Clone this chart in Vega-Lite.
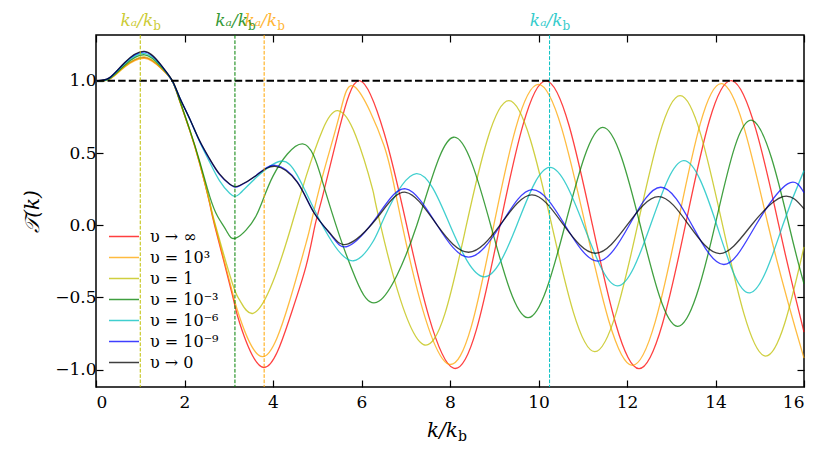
{
  "$schema": "https://vega.github.io/schema/vega-lite/v6.json",
  "width": 708,
  "height": 352,
  "autosize": {"type": "none"},
  "padding": {"left": 96, "top": 35, "right": 27, "bottom": 71},
  "config": {
    "view": {"stroke": "#000", "strokeWidth": 1.5},
    "font": "DejaVu Serif",
    "text": {"font": "DejaVu Serif"},
    "axis": {
      "grid": false, "domain": false, "tickColor": "#000", "tickWidth": 1.2, "tickSize": -7,
      "labelFont": "DejaVu Serif", "labelFontSize": 17, "labelColor": "#000",
      "titleFont": "DejaVu Serif", "titleFontSize": 20, "titleFontWeight": "normal", "titleColor": "#000"
    },
    "legend": {
      "orient": "none", "legendX": 12, "legendY": 191, "symbolType": "stroke", "symbolSize": 900,
      "symbolStrokeWidth": 1.5, "symbolOpacity": 0.75, "labelFont": "DejaVu Serif", "labelFontSize": 16,
      "labelColor": "#000", "rowPadding": 0, "clipHeight": 21, "labelOffset": 10
    }
  },
  "datasets": {
    "markers": [
      {"k": 1.0, "s": "υ = 1"},
      {"k": 3.14, "s": "υ = 10⁻³"},
      {"k": 3.8, "s": "υ = 10³"},
      {"k": 10.25, "s": "υ = 10⁻⁶"}
    ],
    "curves": [
      {"s": "υ → ∞", "k": 0, "T": 1.0}, {"s": "υ → ∞", "k": 0.3, "T": 1.013}, {"s": "υ → ∞", "k": 0.65, "T": 1.1},
      {"s": "υ → ∞", "k": 1.1, "T": 1.16}, {"s": "υ → ∞", "k": 1.48, "T": 1.085}, {"s": "υ → ∞", "k": 1.72, "T": 1.0},
      {"s": "υ → ∞", "k": 1.89, "T": 0.862}, {"s": "υ → ∞", "k": 2.12, "T": 0.655}, {"s": "υ → ∞", "k": 2.34, "T": 0.43},
      {"s": "υ → ∞", "k": 2.57, "T": 0.15}, {"s": "υ → ∞", "k": 2.68, "T": 0.0}, {"s": "υ → ∞", "k": 3.08, "T": -0.48},
      {"s": "υ → ∞", "k": 3.25, "T": -0.68}, {"s": "υ → ∞", "k": 3.79, "T": -0.985},
      {"s": "υ → ∞", "k": 4.37, "T": -0.65}, {"s": "υ → ∞", "k": 4.75, "T": -0.28}, {"s": "υ → ∞", "k": 4.95, "T": 0.0},
      {"s": "υ → ∞", "k": 5.12, "T": 0.2}, {"s": "υ → ∞", "k": 5.5, "T": 0.67}, {"s": "υ → ∞", "k": 5.97, "T": 1.0},
      {"s": "υ → ∞", "k": 6.51, "T": 0.64}, {"s": "υ → ∞", "k": 7.02, "T": 0.0}, {"s": "υ → ∞", "k": 8.08, "T": -0.99},
      {"s": "υ → ∞", "k": 9.13, "T": 0.0}, {"s": "υ → ∞", "k": 10.17, "T": 1.0}, {"s": "υ → ∞", "k": 11.22, "T": 0.0},
      {"s": "υ → ∞", "k": 12.27, "T": -0.993}, {"s": "υ → ∞", "k": 13.32, "T": 0.0}, {"s": "υ → ∞", "k": 14.38, "T": 1.0},
      {"s": "υ → ∞", "k": 15.43, "T": 0.0}, {"s": "υ → ∞", "k": 16, "T": -0.74},

      {"s": "υ = 10³", "k": 0, "T": 1.0}, {"s": "υ = 10³", "k": 0.3, "T": 1.01}, {"s": "υ = 10³", "k": 0.65, "T": 1.095},
      {"s": "υ = 10³", "k": 1.1, "T": 1.155}, {"s": "υ = 10³", "k": 1.48, "T": 1.083}, {"s": "υ = 10³", "k": 1.72, "T": 1.0},
      {"s": "υ = 10³", "k": 1.89, "T": 0.862}, {"s": "υ = 10³", "k": 2.12, "T": 0.655}, {"s": "υ = 10³", "k": 2.34, "T": 0.43},
      {"s": "υ = 10³", "k": 2.57, "T": 0.155}, {"s": "υ = 10³", "k": 2.69, "T": 0.0}, {"s": "υ = 10³", "k": 3.08, "T": -0.46},
      {"s": "υ = 10³", "k": 3.25, "T": -0.64}, {"s": "υ = 10³", "k": 3.77, "T": -0.91},
      {"s": "υ = 10³", "k": 4.37, "T": -0.53}, {"s": "υ = 10³", "k": 4.75, "T": -0.12}, {"s": "υ = 10³", "k": 4.85, "T": 0.0},
      {"s": "υ = 10³", "k": 5.12, "T": 0.34}, {"s": "υ = 10³", "k": 5.5, "T": 0.76}, {"s": "υ = 10³", "k": 5.86, "T": 0.955},
      {"s": "υ = 10³", "k": 6.51, "T": 0.55}, {"s": "υ = 10³", "k": 6.92, "T": 0.0}, {"s": "υ = 10³", "k": 7.97, "T": -0.962},
      {"s": "υ = 10³", "k": 8.99, "T": 0.0}, {"s": "υ = 10³", "k": 10.0, "T": 0.975}, {"s": "υ = 10³", "k": 11.06, "T": 0.0},
      {"s": "υ = 10³", "k": 12.12, "T": -0.97}, {"s": "υ = 10³", "k": 13.14, "T": 0.0}, {"s": "υ = 10³", "k": 14.15, "T": 0.98},
      {"s": "υ = 10³", "k": 15.19, "T": 0.0}, {"s": "υ = 10³", "k": 16, "T": -0.92},

      {"s": "υ = 1", "k": 0, "T": 1.0}, {"s": "υ = 1", "k": 0.3, "T": 1.013}, {"s": "υ = 1", "k": 0.65, "T": 1.1},
      {"s": "υ = 1", "k": 1.1, "T": 1.165}, {"s": "υ = 1", "k": 1.48, "T": 1.088}, {"s": "υ = 1", "k": 1.72, "T": 1.0},
      {"s": "υ = 1", "k": 1.89, "T": 0.864}, {"s": "υ = 1", "k": 2.12, "T": 0.657}, {"s": "υ = 1", "k": 2.34, "T": 0.435},
      {"s": "υ = 1", "k": 2.57, "T": 0.16}, {"s": "υ = 1", "k": 2.7, "T": 0.0}, {"s": "υ = 1", "k": 3.08, "T": -0.4},
      {"s": "υ = 1", "k": 3.25, "T": -0.52}, {"s": "υ = 1", "k": 3.55, "T": -0.61},
      {"s": "υ = 1", "k": 4.0, "T": -0.39}, {"s": "υ = 1", "k": 4.42, "T": 0.0}, {"s": "υ = 1", "k": 4.75, "T": 0.34},
      {"s": "υ = 1", "k": 5.12, "T": 0.66}, {"s": "υ = 1", "k": 5.46, "T": 0.793}, {"s": "υ = 1", "k": 5.87, "T": 0.62},
      {"s": "υ = 1", "k": 6.25, "T": 0.25}, {"s": "υ = 1", "k": 6.43, "T": 0.0}, {"s": "υ = 1", "k": 7.4, "T": -0.826},
      {"s": "υ = 1", "k": 8.37, "T": 0.0}, {"s": "υ = 1", "k": 9.33, "T": 0.862}, {"s": "υ = 1", "k": 10.3, "T": 0.0},
      {"s": "υ = 1", "k": 11.27, "T": -0.875}, {"s": "υ = 1", "k": 12.24, "T": 0.0}, {"s": "υ = 1", "k": 13.2, "T": 0.897},
      {"s": "υ = 1", "k": 14.16, "T": 0.0}, {"s": "υ = 1", "k": 15.11, "T": -0.905}, {"s": "υ = 1", "k": 16, "T": -0.15},

      {"s": "υ = 10⁻³", "k": 0, "T": 1.0}, {"s": "υ = 10⁻³", "k": 0.3, "T": 1.015}, {"s": "υ = 10⁻³", "k": 0.65, "T": 1.11},
      {"s": "υ = 10⁻³", "k": 1.1, "T": 1.18}, {"s": "υ = 10⁻³", "k": 1.48, "T": 1.095}, {"s": "υ = 10⁻³", "k": 1.72, "T": 1.0},
      {"s": "υ = 10⁻³", "k": 1.89, "T": 0.866}, {"s": "υ = 10⁻³", "k": 2.12, "T": 0.66}, {"s": "υ = 10⁻³", "k": 2.34, "T": 0.445},
      {"s": "υ = 10⁻³", "k": 2.57, "T": 0.2}, {"s": "υ = 10⁻³", "k": 2.75, "T": 0.06}, {"s": "υ = 10⁻³", "k": 2.95, "T": -0.04},
      {"s": "υ = 10⁻³", "k": 3.17, "T": -0.088},
      {"s": "υ = 10⁻³", "k": 3.62, "T": 0.066}, {"s": "υ = 10⁻³", "k": 4.0, "T": 0.34}, {"s": "υ = 10⁻³", "k": 4.67, "T": 0.563},
      {"s": "υ = 10⁻³", "k": 5.12, "T": 0.3}, {"s": "υ = 10⁻³", "k": 5.5, "T": -0.07}, {"s": "υ = 10⁻³", "k": 5.87, "T": -0.37},
      {"s": "υ = 10⁻³", "k": 6.4, "T": -0.525}, {"s": "υ = 10⁻³", "k": 7.25, "T": 0.0}, {"s": "υ = 10⁻³", "k": 8.08, "T": 0.609},
      {"s": "υ = 10⁻³", "k": 8.92, "T": 0.0}, {"s": "υ = 10⁻³", "k": 9.76, "T": -0.64}, {"s": "υ = 10⁻³", "k": 10.6, "T": 0.0},
      {"s": "υ = 10⁻³", "k": 11.45, "T": 0.678}, {"s": "υ = 10⁻³", "k": 12.3, "T": 0.0}, {"s": "υ = 10⁻³", "k": 13.14, "T": -0.7},
      {"s": "υ = 10⁻³", "k": 13.99, "T": 0.0}, {"s": "υ = 10⁻³", "k": 14.83, "T": 0.726}, {"s": "υ = 10⁻³", "k": 15.66, "T": 0.0},
      {"s": "υ = 10⁻³", "k": 16, "T": -0.405},

      {"s": "υ = 10⁻⁶", "k": 0, "T": 1.0}, {"s": "υ = 10⁻⁶", "k": 0.3, "T": 1.017}, {"s": "υ = 10⁻⁶", "k": 0.65, "T": 1.12},
      {"s": "υ = 10⁻⁶", "k": 1.1, "T": 1.19}, {"s": "υ = 10⁻⁶", "k": 1.48, "T": 1.1}, {"s": "υ = 10⁻⁶", "k": 1.72, "T": 1.0},
      {"s": "υ = 10⁻⁶", "k": 1.89, "T": 0.884}, {"s": "υ = 10⁻⁶", "k": 2.12, "T": 0.733}, {"s": "υ = 10⁻⁶", "k": 2.34, "T": 0.58},
      {"s": "υ = 10⁻⁶", "k": 2.57, "T": 0.436}, {"s": "υ = 10⁻⁶", "k": 2.79, "T": 0.309}, {"s": "υ = 10⁻⁶", "k": 3.02, "T": 0.221},
      {"s": "υ = 10⁻⁶", "k": 3.13, "T": 0.2},
      {"s": "υ = 10⁻⁶", "k": 3.245, "T": 0.217}, {"s": "υ = 10⁻⁶", "k": 3.62, "T": 0.33}, {"s": "υ = 10⁻⁶", "k": 4.17, "T": 0.443},
      {"s": "υ = 10⁻⁶", "k": 4.55, "T": 0.345}, {"s": "υ = 10⁻⁶", "k": 4.93, "T": 0.11}, {"s": "υ = 10⁻⁶", "k": 5.34, "T": -0.118},
      {"s": "υ = 10⁻⁶", "k": 5.82, "T": -0.246}, {"s": "υ = 10⁻⁶", "k": 6.25, "T": -0.118}, {"s": "υ = 10⁻⁶", "k": 6.51, "T": 0.05},
      {"s": "υ = 10⁻⁶", "k": 7.24, "T": 0.357}, {"s": "υ = 10⁻⁶", "k": 8.0, "T": 0.0}, {"s": "υ = 10⁻⁶", "k": 8.77, "T": -0.357},
      {"s": "υ = 10⁻⁶", "k": 9.51, "T": 0.0}, {"s": "υ = 10⁻⁶", "k": 10.25, "T": 0.4}, {"s": "υ = 10⁻⁶", "k": 11.02, "T": 0.0},
      {"s": "υ = 10⁻⁶", "k": 11.78, "T": -0.42}, {"s": "υ = 10⁻⁶", "k": 12.53, "T": 0.0}, {"s": "υ = 10⁻⁶", "k": 13.28, "T": 0.447},
      {"s": "υ = 10⁻⁶", "k": 14.03, "T": 0.0}, {"s": "υ = 10⁻⁶", "k": 14.78, "T": -0.468}, {"s": "υ = 10⁻⁶", "k": 15.52, "T": 0.0},
      {"s": "υ = 10⁻⁶", "k": 16, "T": 0.378},

      {"s": "υ = 10⁻⁹", "k": 0, "T": 1.0}, {"s": "υ = 10⁻⁹", "k": 0.3, "T": 1.02}, {"s": "υ = 10⁻⁹", "k": 0.65, "T": 1.125},
      {"s": "υ = 10⁻⁹", "k": 1.1, "T": 1.2}, {"s": "υ = 10⁻⁹", "k": 1.48, "T": 1.105}, {"s": "υ = 10⁻⁹", "k": 1.72, "T": 1.0},
      {"s": "υ = 10⁻⁹", "k": 1.89, "T": 0.885}, {"s": "υ = 10⁻⁹", "k": 2.12, "T": 0.735}, {"s": "υ = 10⁻⁹", "k": 2.34, "T": 0.584},
      {"s": "υ = 10⁻⁹", "k": 2.57, "T": 0.456}, {"s": "υ = 10⁻⁹", "k": 2.79, "T": 0.352}, {"s": "υ = 10⁻⁹", "k": 3.02, "T": 0.283},
      {"s": "υ = 10⁻⁹", "k": 3.13, "T": 0.265},
      {"s": "υ = 10⁻⁹", "k": 3.245, "T": 0.272}, {"s": "υ = 10⁻⁹", "k": 3.62, "T": 0.345}, {"s": "υ = 10⁻⁹", "k": 4.05, "T": 0.415},
      {"s": "υ = 10⁻⁹", "k": 4.55, "T": 0.3}, {"s": "υ = 10⁻⁹", "k": 4.92, "T": 0.09}, {"s": "υ = 10⁻⁹", "k": 5.33, "T": -0.075},
      {"s": "υ = 10⁻⁹", "k": 5.7, "T": -0.145}, {"s": "υ = 10⁻⁹", "k": 6.35, "T": 0.06}, {"s": "υ = 10⁻⁹", "k": 7.0, "T": 0.252},
      {"s": "υ = 10⁻⁹", "k": 7.71, "T": 0.0}, {"s": "υ = 10⁻⁹", "k": 8.42, "T": -0.221}, {"s": "υ = 10⁻⁹", "k": 9.14, "T": 0.0},
      {"s": "υ = 10⁻⁹", "k": 9.86, "T": 0.247}, {"s": "υ = 10⁻⁹", "k": 10.6, "T": 0.0}, {"s": "υ = 10⁻⁹", "k": 11.34, "T": -0.249},
      {"s": "υ = 10⁻⁹", "k": 12.05, "T": 0.0}, {"s": "υ = 10⁻⁹", "k": 12.76, "T": 0.263}, {"s": "υ = 10⁻⁹", "k": 13.47, "T": 0.0},
      {"s": "υ = 10⁻⁹", "k": 14.19, "T": -0.272}, {"s": "υ = 10⁻⁹", "k": 14.91, "T": 0.0}, {"s": "υ = 10⁻⁹", "k": 15.63, "T": 0.286},
      {"s": "υ = 10⁻⁹", "k": 16, "T": 0.225},

      {"s": "υ → 0", "k": 0, "T": 1.0}, {"s": "υ → 0", "k": 0.3, "T": 1.02}, {"s": "υ → 0", "k": 0.65, "T": 1.127},
      {"s": "υ → 0", "k": 1.1, "T": 1.203}, {"s": "υ → 0", "k": 1.48, "T": 1.105}, {"s": "υ → 0", "k": 1.73, "T": 1.0},
      {"s": "υ → 0", "k": 1.89, "T": 0.885}, {"s": "υ → 0", "k": 2.12, "T": 0.736}, {"s": "υ → 0", "k": 2.34, "T": 0.586},
      {"s": "υ → 0", "k": 2.57, "T": 0.459}, {"s": "υ → 0", "k": 2.79, "T": 0.355}, {"s": "υ → 0", "k": 3.02, "T": 0.286},
      {"s": "υ → 0", "k": 3.13, "T": 0.268},
      {"s": "υ → 0", "k": 3.245, "T": 0.275}, {"s": "υ → 0", "k": 3.62, "T": 0.344}, {"s": "υ → 0", "k": 4.05, "T": 0.408},
      {"s": "υ → 0", "k": 4.55, "T": 0.297}, {"s": "υ → 0", "k": 4.92, "T": 0.09}, {"s": "υ → 0", "k": 5.33, "T": -0.07},
      {"s": "υ → 0", "k": 5.7, "T": -0.129}, {"s": "υ → 0", "k": 6.35, "T": 0.05}, {"s": "υ → 0", "k": 7.0, "T": 0.228},
      {"s": "υ → 0", "k": 7.71, "T": 0.0}, {"s": "υ → 0", "k": 8.42, "T": -0.187}, {"s": "υ → 0", "k": 9.13, "T": 0.0},
      {"s": "υ → 0", "k": 9.85, "T": 0.21}, {"s": "υ → 0", "k": 10.57, "T": 0.0}, {"s": "υ → 0", "k": 11.29, "T": -0.194},
      {"s": "υ → 0", "k": 12.0, "T": 0.0}, {"s": "υ → 0", "k": 12.71, "T": 0.198}, {"s": "υ → 0", "k": 13.4, "T": 0.0},
      {"s": "υ → 0", "k": 14.1, "T": -0.196}, {"s": "υ → 0", "k": 14.81, "T": 0.0}, {"s": "υ → 0", "k": 15.52, "T": 0.198},
      {"s": "υ → 0", "k": 16, "T": 0.113}
    ]
  },
  "layer": [
    {
      "data": {"name": "curves"},
      "mark": {"type": "line", "interpolate": "natural", "strokeWidth": 1.3, "opacity": 0.75},
      "encoding": {
        "x": {
          "field": "k", "type": "quantitative",
          "scale": {"domain": [0, 16], "nice": false},
          "axis": {"values": [0, 2, 4, 6, 8, 10, 12, 14, 16], "format": "d", "title": null, "labelPadding": 14}
        },
        "y": {
          "field": "T", "type": "quantitative",
          "scale": {"domain": [-1.12, 1.317], "nice": false, "zero": false},
          "axis": {"values": [-1, -0.5, 0, 0.5, 1], "format": ".1f", "title": "𝒯(k)", "titleFontStyle": "italic", "labelPadding": 7, "titlePadding": 12}
        },
        "color": {
          "field": "s", "type": "nominal",
          "scale": {
            "domain": ["υ → ∞", "υ = 10³", "υ = 1", "υ = 10⁻³", "υ = 10⁻⁶", "υ = 10⁻⁹", "υ → 0"],
            "range": ["#ff0000", "#ffa500", "#bfbf00", "#008000", "#00bfbf", "#0000ff", "#000000"]
          },
          "legend": {"title": null}
        }
      }
    },
    {
      "data": {"values": [{}]},
      "mark": {"type": "rule", "color": "#000", "strokeDash": [7.4, 3.2], "strokeWidth": 2},
      "encoding": {"y": {"datum": 1, "type": "quantitative", "axis": null}}
    },
    {
      "data": {"name": "markers"},
      "mark": {"type": "rule", "strokeDash": [3.7, 1.6], "strokeWidth": 1},
      "encoding": {
        "x": {"field": "k", "type": "quantitative", "axis": null},
        "color": {"field": "s", "type": "nominal", "legend": null}
      }
    },
    {
      "data": {"name": "markers"},
      "mark": {"type": "text", "text": "kₐ/k", "align": "right", "baseline": "alphabetic", "dx": 13, "dy": -9, "fontSize": 17, "fontStyle": "italic", "opacity": 0.8},
      "encoding": {
        "x": {"field": "k", "type": "quantitative", "axis": null},
        "y": {"datum": 1.317, "type": "quantitative", "axis": null},
        "color": {"field": "s", "type": "nominal", "legend": null}
      }
    },
    {
      "data": {"name": "markers"},
      "mark": {"type": "text", "text": "b", "align": "left", "baseline": "alphabetic", "dx": 13, "dy": -5, "fontSize": 12, "opacity": 0.8},
      "encoding": {
        "x": {"field": "k", "type": "quantitative", "axis": null},
        "y": {"datum": 1.317, "type": "quantitative", "axis": null},
        "color": {"field": "s", "type": "nominal", "legend": null}
      }
    },
    {
      "data": {"values": [{}]},
      "mark": {"type": "text", "text": "k/k", "align": "right", "baseline": "alphabetic", "dx": 8, "dy": 50, "fontSize": 20, "fontStyle": "italic", "color": "#000"},
      "encoding": {
        "x": {"datum": 8, "type": "quantitative", "axis": null},
        "y": {"datum": -1.12, "type": "quantitative", "axis": null}
      }
    },
    {
      "data": {"values": [{}]},
      "mark": {"type": "text", "text": "b", "align": "left", "baseline": "alphabetic", "dx": 8, "dy": 54, "fontSize": 14, "color": "#000"},
      "encoding": {
        "x": {"datum": 8, "type": "quantitative", "axis": null},
        "y": {"datum": -1.12, "type": "quantitative", "axis": null}
      }
    },
    {
      "data": {"name": "curves"},
      "mark": {"type": "point", "opacity": 0},
      "encoding": {
        "x": {"field": "k", "type": "quantitative", "axis": {"orient": "top", "values": [0, 2, 4, 6, 8, 10, 12, 14, 16], "labels": false, "title": null}},
        "y": {"field": "T", "type": "quantitative", "axis": {"orient": "right", "values": [-1, -0.5, 0, 0.5, 1], "labels": false, "title": null}}
      }
    }
  ],
  "resolve": {"axis": {"x": "independent", "y": "independent"}}
}
